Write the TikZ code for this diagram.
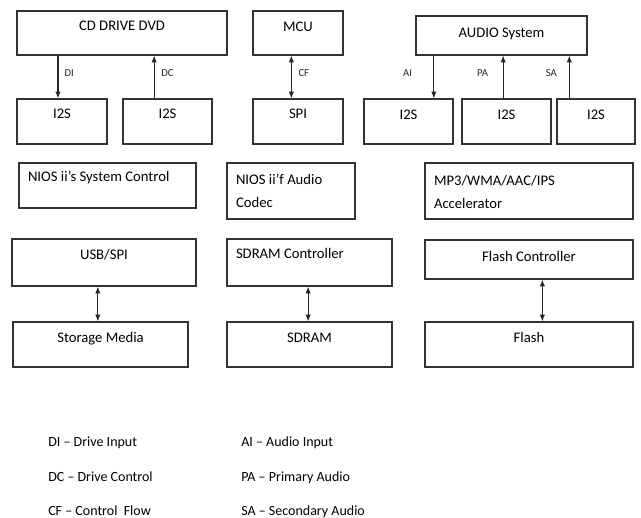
\documentclass[tikz,border=0pt]{standalone}
\usepackage{fontspec}
\setmainfont{Carlito}
\usetikzlibrary{arrows.meta,positioning,fit}

\begin{document}
\begin{tikzpicture}[x=0.75pt,y=-0.75pt,
  box/.style={draw=black!80, line width=0.9pt, inner sep=0pt},
  ttl/.style 2 args={label={[anchor=base, yshift=-#1, inner sep=0pt,
      font=\fontsize{11}{13}\selectfont]north:#2}},
  ttlw/.style 2 args={label={[anchor=base west, xshift=7pt, yshift=-#1, inner sep=0pt,
      align=left, font=\fontsize{11}{17.25}\selectfont]north west:#2}},
  arr/.style={-{Latex[length=5pt,width=4pt]}, line width=0.8pt, black!85},
  darr/.style={{Latex[length=5pt,width=4pt]}-{Latex[length=5pt,width=4pt]}, line width=0.8pt, black!85},
  lbl/.style={font=\fontsize{8}{10}\selectfont, inner sep=0pt},
  leg/.style={anchor=base west, font=\fontsize{10.5}{13}\selectfont, inner sep=0pt}]
  \useasboundingbox (0,0) rectangle (641,517);

  % 第一行：驱动器、MCU、音频系统
  \node[box, fit={(17,11) (227,55)}, ttl={15pt}{CD DRIVE DVD}] (cd) {};
  \node[box, fit={(17,99) (107,144)}, ttl={15pt}{I2S}] (i2sa) {};
  \node[box, fit={(123,99) (212,144)}, ttl={15pt}{I2S}] (i2sb) {};
  \node[box, fit={(253,11) (343,55)}, ttl={15.5pt}{MCU}] (mcu) {};
  \node[box, fit={(253,99) (343,144)}, ttl={15pt}{SPI}] (spi) {};
  \node[box, fit={(416,16) (587,55)}, ttl={16.5pt}{AUDIO System}] (aud) {};
  \node[box, fit={(364,99) (453,144)}, ttl={15.5pt}{I2S}] (i2sc) {};
  \node[box, fit={(462,99) (551,144)}, ttl={15.5pt}{I2S}] (i2sd) {};
  \node[box, fit={(557,99) (635,144)}, ttl={15.5pt}{I2S}] (i2se) {};

  % 第一行的连线
  \draw[arr] ([xshift=-3pt]i2sa.north |- cd.south) -- node[lbl, right=4.5pt, pos=0.4]{DI} ([xshift=-3pt]i2sa.north);
  \draw[arr] ([xshift=-10pt]i2sb.north) -- node[lbl, right=5pt, pos=0.6]{DC} ([xshift=-10pt]i2sb.north |- cd.south);
  \draw[darr] ([xshift=-5pt]mcu.south) -- node[lbl, right=5pt, pos=0.4]{CF} ([xshift=-5pt]spi.north);
  \draw[arr] ([xshift=19pt]i2sc.north |- aud.south) -- node[lbl, left=16pt, pos=0.4]{AI} ([xshift=19pt]i2sc.north);
  \draw[arr] ([xshift=-2.5pt]i2sd.north) -- node[lbl, left=11pt, pos=0.6]{PA} ([xshift=-2.5pt]i2sd.north |- aud.south);
  \draw[arr] ([xshift=-20pt]i2se.north) -- node[lbl, left=9pt, pos=0.6]{SA} ([xshift=-20pt]i2se.north |- aud.south);

  % 中间：NIOS 与加速器（两行文字按末行基线定位）
  \node[box, fit={(19,163) (196,208)}, ttlw={14.6pt}{NIOS ii’s System Control}] (nios) {};
  \node[box, fit={(227,163) (355,219)}, ttlw={33.75pt}{NIOS ii’f Audio\\Codec}] (codec) {};
  \node[box, fit={(425,163) (633,219)}, ttlw={34.5pt}{MP3/WMA/AAC/IPS\\Accelerator}] (acc) {};

  % 控制器与存储
  \node[box, fit={(12,239) (196,286)}, ttl={15.75pt}{USB/SPI}] (usb) {};
  \node[box, fit={(227,239) (392,286)}, ttlw={15pt}{SDRAM Controller}] (sdc) {};
  \node[box, fit={(425,240) (633,279)}, ttl={16.5pt}{Flash Controller}] (fc) {};
  \node[box, fit={(13,322) (188,367)}, ttl={15.75pt}{Storage Media}] (sm) {};
  \node[box, fit={(227,322) (392,367)}, ttl={15.75pt}{SDRAM}] (sdram) {};
  \node[box, fit={(425,322) (633,367)}, ttl={15.75pt}{Flash}] (flash) {};

  \draw[darr] ([xshift=-2pt]sm.north |- usb.south) -- ([xshift=-2pt]sm.north);
  \draw[darr] ([xshift=-1pt]sdram.north |- sdc.south) -- ([xshift=-1pt]sdram.north);
  \draw[darr] ([xshift=10pt]flash.north |- fc.south) -- ([xshift=10pt]flash.north);

  % 图例
  \node[leg] (ldi) at (48,446) {DI – Drive Input};
  \node[leg] (ldc) at (48,481) {DC – Drive Control};
  \node[leg] (lcf) at (48,515) {CF – Control\ \ Flow};
  \node[leg] (lai) at (241,446) {AI – Audio Input};
  \node[leg] (lpa) at (241,481) {PA – Primary Audio};
  \node[leg] (lsa) at (241,515) {SA – Secondary Audio};
\end{tikzpicture}
\end{document}
